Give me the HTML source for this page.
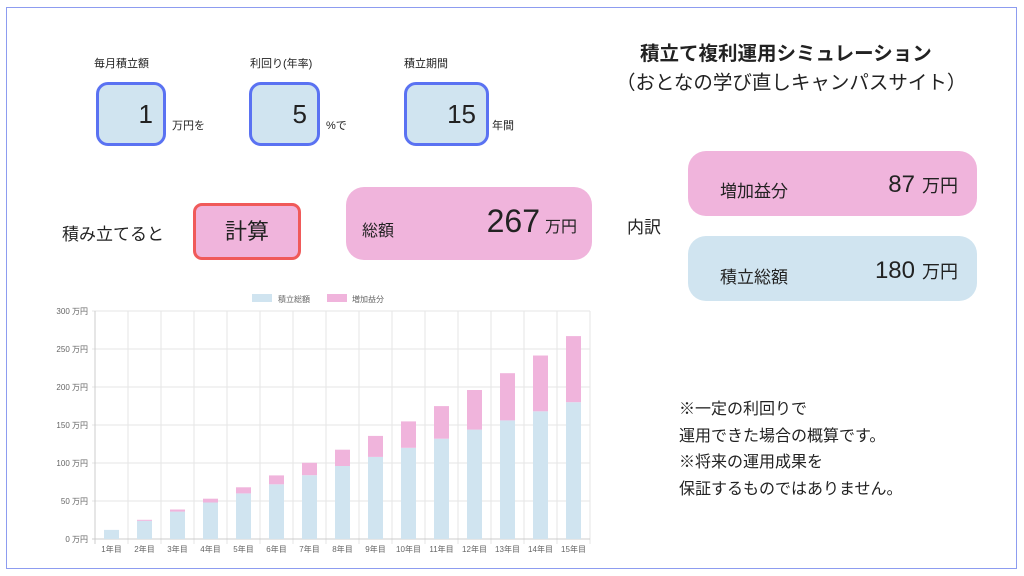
<!DOCTYPE html>
<html><head><meta charset="utf-8"><style>
body{margin:0;width:1024px;height:576px;background:#fff;position:relative;overflow:hidden;font-family:"Liberation Sans","Noto Sans CJK JP",sans-serif;color:#222}
.a{position:absolute;white-space:nowrap}
.frame{left:6px;top:7px;width:1009px;height:560px;border:1.5px solid #8d9cf0}
.inp{position:absolute;top:82px;height:58px;border:3px solid #5a72f2;background:#d0e4f0;border-radius:12px;font-size:26px;text-align:right;line-height:58px;box-sizing:content-box}
.lab{font-size:11px;top:55px}
.unit{font-size:11px;top:117px}
.bl{display:flex;align-items:baseline}
</style></head><body>
<div class="a frame"></div>
<div class="a lab" style="left:94px">毎月積立額</div>
<div class="a lab" style="left:250px">利回り(年率)</div>
<div class="a lab" style="left:404px">積立期間</div>
<div class="inp" style="left:96px;width:64px"><span style="padding-right:10px">1</span></div>
<div class="inp" style="left:249px;width:65px"><span style="padding-right:10px">5</span></div>
<div class="inp" style="left:404px;width:79px"><span style="padding-right:10px">15</span></div>
<div class="a unit" style="left:172px">万円を</div>
<div class="a unit" style="left:326px">%で</div>
<div class="a unit" style="left:492px">年間</div>
<div class="a" style="left:62px;top:220px;font-size:17px">積み立てると</div>
<div class="a" style="left:193px;top:203px;width:102px;height:51px;border:3px solid #f05a5a;background:#f0b4dc;border-radius:9px;font-size:22px;text-align:center;line-height:51px">計算</div>
<div class="a" style="left:346px;top:187px;width:246px;height:73px;background:#f0b4dc;border-radius:18px"></div>
<div class="a" style="left:362px;top:217px;font-size:16px">総額</div>
<div class="a bl" style="right:447px;top:203px"><span style="font-size:32px">267</span><span style="font-size:16px;margin-left:5px">万円</span></div>
<div class="a" style="left:640px;top:37px;font-size:19.5px;font-weight:bold">積立て複利運用シミュレーション</div>
<div class="a" style="left:616px;top:66px;font-size:19.5px">（おとなの学び直しキャンパスサイト）</div>
<div class="a" style="left:627px;top:213px;font-size:17px">内訳</div>
<div class="a" style="left:688px;top:151px;width:289px;height:65px;background:#f0b4dc;border-radius:18px"></div>
<div class="a" style="left:720px;top:177px;font-size:17px">増加益分</div>
<div class="a bl" style="right:66px;top:171px"><span style="font-size:24px">87</span><span style="font-size:18px;margin-left:7px">万円</span></div>
<div class="a" style="left:688px;top:236px;width:289px;height:65px;background:#d0e4f0;border-radius:18px"></div>
<div class="a" style="left:720px;top:263px;font-size:17px">積立総額</div>
<div class="a bl" style="right:66px;top:257px"><span style="font-size:24px">180</span><span style="font-size:18px;margin-left:7px">万円</span></div>
<div class="a" style="left:679px;top:397px;font-size:16px;line-height:26.5px">※一定の利回りで<br>運用できた場合の概算です。<br>※将来の運用成果を<br>保証するものではありません。</div>
<svg class="a" style="left:0;top:0" width="1024" height="576" font-family="Liberation Sans,Noto Sans CJK JP,sans-serif">
<rect x="252" y="294" width="20" height="8" fill="#d0e4f0"/><text x="278" y="302" font-size="8" fill="#666">積立総額</text>
<rect x="327" y="294" width="20" height="8" fill="#f0b4dc"/><text x="352" y="302" font-size="8" fill="#666">増加益分</text>
<g stroke="#e6e6e6" stroke-width="1">
<line x1="92" y1="311" x2="590" y2="311"/><line x1="92" y1="349" x2="590" y2="349"/><line x1="92" y1="387" x2="590" y2="387"/><line x1="92" y1="425" x2="590" y2="425"/><line x1="92" y1="463" x2="590" y2="463"/><line x1="92" y1="501" x2="590" y2="501"/>
<line x1="128" y1="311" x2="128" y2="544"/><line x1="161" y1="311" x2="161" y2="544"/><line x1="194" y1="311" x2="194" y2="544"/><line x1="227" y1="311" x2="227" y2="544"/><line x1="260" y1="311" x2="260" y2="544"/><line x1="293" y1="311" x2="293" y2="544"/><line x1="326" y1="311" x2="326" y2="544"/><line x1="359" y1="311" x2="359" y2="544"/><line x1="392" y1="311" x2="392" y2="544"/><line x1="425" y1="311" x2="425" y2="544"/><line x1="458" y1="311" x2="458" y2="544"/><line x1="491" y1="311" x2="491" y2="544"/><line x1="524" y1="311" x2="524" y2="544"/><line x1="557" y1="311" x2="557" y2="544"/><line x1="590" y1="311" x2="590" y2="544"/>
</g>
<line x1="95" y1="311" x2="95" y2="544" stroke="#ccc"/><line x1="92" y1="539" x2="590" y2="539" stroke="#ccc"/>
<g fill="#d0e4f0">
<rect x="104" y="529.9" width="15" height="9.1"/><rect x="137" y="520.8" width="15" height="18.2"/><rect x="170" y="511.6" width="15" height="27.4"/><rect x="203" y="502.5" width="15" height="36.5"/><rect x="236" y="493.4" width="15" height="45.6"/><rect x="269" y="484.3" width="15" height="54.7"/><rect x="302" y="475.2" width="15" height="63.8"/><rect x="335" y="466" width="15" height="73"/><rect x="368" y="456.9" width="15" height="82.1"/><rect x="401" y="447.8" width="15" height="91.2"/><rect x="434" y="438.7" width="15" height="100.3"/><rect x="467" y="429.6" width="15" height="109.4"/><rect x="500" y="420.4" width="15" height="118.6"/><rect x="533" y="411.3" width="15" height="127.7"/><rect x="566" y="402.2" width="15" height="136.8"/>
</g>
<g fill="#f0b4dc">
<rect x="137" y="519.8" width="15" height="1"/><rect x="170" y="509.5" width="15" height="2.1"/><rect x="203" y="498.7" width="15" height="3.8"/><rect x="236" y="487.3" width="15" height="6.1"/><rect x="269" y="475.4" width="15" height="8.9"/><rect x="302" y="462.8" width="15" height="12.4"/><rect x="335" y="449.7" width="15" height="16.3"/><rect x="368" y="435.9" width="15" height="21"/><rect x="401" y="421.4" width="15" height="26.4"/><rect x="434" y="406.1" width="15" height="32.6"/><rect x="467" y="390" width="15" height="39.6"/><rect x="500" y="373.2" width="15" height="47.2"/><rect x="533" y="355.5" width="15" height="55.8"/><rect x="566" y="336.1" width="15" height="66.1"/>
</g>
<g font-size="8" fill="#666" text-anchor="end">
<text x="88" y="314">300 万円</text><text x="88" y="352">250 万円</text><text x="88" y="390">200 万円</text><text x="88" y="428">150 万円</text><text x="88" y="466">100 万円</text><text x="88" y="504">50 万円</text><text x="88" y="542">0 万円</text>
</g>
<g font-size="8" fill="#666" text-anchor="middle">
<text x="111.5" y="552">1年目</text><text x="144.5" y="552">2年目</text><text x="177.5" y="552">3年目</text><text x="210.5" y="552">4年目</text><text x="243.5" y="552">5年目</text><text x="276.5" y="552">6年目</text><text x="309.5" y="552">7年目</text><text x="342.5" y="552">8年目</text><text x="375.5" y="552">9年目</text><text x="408.5" y="552">10年目</text><text x="441.5" y="552">11年目</text><text x="474.5" y="552">12年目</text><text x="507.5" y="552">13年目</text><text x="540.5" y="552">14年目</text><text x="573.5" y="552">15年目</text>
</g>
</svg>
</body></html>
